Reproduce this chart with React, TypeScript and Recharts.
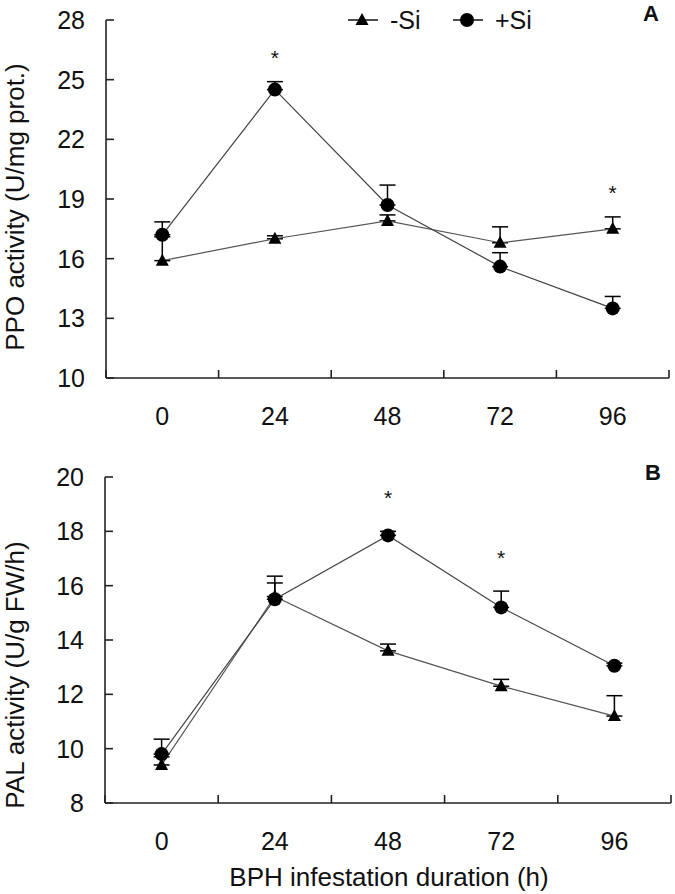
import React from "react";
import { LineChart, Line, XAxis, YAxis, ErrorBar, LabelList, Label } from "recharts";

const hours = [0, 24, 48, 72, 96];

// panel A: PPO activity
const ppoMinus = [15.9, 17.0, 17.9, 16.8, 17.5];
const ppoMinusErr = [1.2, 0.15, 0.3, 0.8, 0.6];
const ppoPlus = [17.2, 24.5, 18.7, 15.6, 13.5];
const ppoPlusErr = [0.65, 0.4, 1.0, 0.7, 0.6];
const ppoSig = [false, true, false, false, true];

// panel B: PAL activity
const palMinus = [9.4, 15.6, 13.6, 12.3, 11.2];
const palMinusErr = [0.3, 0.5, 0.25, 0.25, 0.75];
const palPlus = [9.8, 15.5, 17.85, 15.2, 13.05];
const palPlusErr = [0.55, 0.85, 0.15, 0.6, 0.1];
const palSig = [false, false, true, true, false];

const ppoTicks = [10, 13, 16, 19, 22, 25, 28];
const palTicks = [8, 10, 12, 14, 16, 18, 20];
const xTicks = [-12, 0, 12, 24, 36, 48, 60, 72, 84, 96, 108];

const FONT = "Liberation Sans, Arial, sans-serif";
const AXIS = "#222";

function buildRows(minus: number[], minusErr: number[], plus: number[], plusErr: number[], sig: boolean[]) {
  return hours.map((t, i) => ({
    t,
    minus: minus[i],
    minusErr: [0, minusErr[i]],
    plus: plus[i],
    plusErr: [0, plusErr[i]],
    star: sig[i] ? Math.max(minus[i] + minusErr[i], plus[i] + plusErr[i]) : null,
  }));
}

const TriangleDot = (props: any) => {
  const { cx, cy } = props;
  if (cx == null || cy == null) return null;
  return <polygon points={`${cx},${cy - 7} ${cx - 6.5},${cy + 5} ${cx + 6.5},${cy + 5}`} fill="#000" />;
};

const YTick = (props: any) => {
  const { x, y, payload } = props;
  return (
    <g>
      <line x1={x} x2={x + 8} y1={y} y2={y} stroke={AXIS} strokeWidth={1.6} />
      <text x={x - 21} y={y} dy="0.36em" textAnchor="end" fontSize={25} fontFamily={FONT} fill="#111">
        {payload.value}
      </text>
    </g>
  );
};

const XTick = (props: any) => {
  const { x, y, payload } = props;
  if (payload.value % 24 === 0) {
    return (
      <text x={x} y={y + 38} dy="0.36em" textAnchor="middle" fontSize={25} fontFamily={FONT} fill="#111">
        {payload.value}
      </text>
    );
  }
  return <line x1={x} x2={x} y1={y} y2={y - 8} stroke={AXIS} strokeWidth={1.6} />;
};

interface PanelProps {
  rows: ReturnType<typeof buildRows>;
  height: number;
  top: number;
  right: number;
  yWidth: number;
  xHeight: number;
  domain: [number, number];
  ticks: number[];
  yTitle: string;
  yTitleY: number;
  starOffset: number;
  xTitle?: string;
}

function Panel(p: PanelProps) {
  return (
    <LineChart width={675} height={p.height} data={p.rows} margin={{ top: p.top, right: p.right, left: 0, bottom: 0 }}>
      <XAxis
        dataKey="t"
        type="number"
        domain={[-12, 108]}
        ticks={xTicks}
        interval={0}
        tickSize={0}
        tickMargin={0}
        tickLine={false}
        tick={<XTick />}
        height={p.xHeight}
        stroke={AXIS}
        strokeWidth={1.6}
      >
        {p.xTitle && (
          <Label
            content={() => (
              <text x={389} y={p.height - 17} dy="0.36em" textAnchor="middle" fontSize={26} fontFamily={FONT} fill="#111">
                {p.xTitle}
              </text>
            )}
          />
        )}
      </XAxis>
      <YAxis
        type="number"
        domain={p.domain}
        ticks={p.ticks}
        interval={0}
        width={p.yWidth}
        tickSize={0}
        tickMargin={0}
        tickLine={false}
        tick={<YTick />}
        stroke={AXIS}
        strokeWidth={1.6}
      >
        <Label
          content={() => (
            <text
              x={15}
              y={p.yTitleY}
              dy="0.36em"
              textAnchor="middle"
              fontSize={26}
              fontFamily={FONT}
              fill="#111"
              transform={`rotate(-90 15 ${p.yTitleY})`}
            >
              {p.yTitle}
            </text>
          )}
        />
      </YAxis>
      <Line dataKey="minus" stroke="#555" strokeWidth={1.2} dot={<TriangleDot />} activeDot={false} isAnimationActive={false}>
        <ErrorBar dataKey="minusErr" direction="y" width={8} stroke="#000" strokeWidth={1.5} />
      </Line>
      <Line
        dataKey="plus"
        stroke="#444"
        strokeWidth={1.2}
        dot={{ r: 7, fill: "#000", stroke: "#000", strokeWidth: 0 }}
        activeDot={false}
        isAnimationActive={false}
      >
        <ErrorBar dataKey="plusErr" direction="y" width={8} stroke="#000" strokeWidth={1.5} />
      </Line>
      <Line dataKey="star" stroke="none" dot={false} activeDot={false} isAnimationActive={false} legendType="none">
        <LabelList
          dataKey="star"
          content={(lp: any) => {
            if (lp.value == null || lp.y == null) return null;
            return (
              <text x={lp.x} y={lp.y - p.starOffset + 8} textAnchor="middle" fontSize={21} fontFamily={FONT} fill="#111">
                *
              </text>
            );
          }}
        />
      </Line>
    </LineChart>
  );
}

const letterStyle: React.CSSProperties = {
  position: "absolute",
  fontFamily: FONT,
  fontWeight: "bold",
  fontSize: 22,
  color: "#111",
};

export default function App() {
  const rowsA = buildRows(ppoMinus, ppoMinusErr, ppoPlus, ppoPlusErr, ppoSig);
  const rowsB = buildRows(palMinus, palMinusErr, palPlus, palPlusErr, palSig);
  return (
    <div style={{ position: "absolute", left: 0, top: 0, width: 675, height: 894, background: "#fff" }}>
      <Panel
        rows={rowsA}
        height={440}
        top={20}
        right={6}
        yWidth={106}
        xHeight={62}
        domain={[10, 28]}
        ticks={ppoTicks}
        yTitle="PPO activity (U/mg prot.)"
        yTitleY={207}
        starOffset={25}
      />
      <Panel
        rows={rowsB}
        height={454}
        top={37}
        right={4}
        yWidth={105}
        xHeight={91}
        domain={[8, 20]}
        ticks={palTicks}
        yTitle="PAL activity (U/g FW/h)"
        yTitleY={235}
        starOffset={34}
        xTitle="BPH infestation duration (h)"
      />
      {/* legend */}
      <svg style={{ position: "absolute", left: 340, top: 4 }} width={210} height={32}>
        <line x1={8} x2={38} y1={16} y2={16} stroke="#111" strokeWidth={1.5} />
        <polygon points="22,9 15.5,21 28.5,21" fill="#000" />
        <text x={50} y={16} dy="0.36em" fontSize={25} fontFamily={FONT} fill="#111">-Si</text>
        <line x1={113} x2={143} y1={16} y2={16} stroke="#111" strokeWidth={1.5} />
        <circle cx={127} cy={16} r={7} fill="#000" />
        <text x={155} y={16} dy="0.36em" fontSize={25} fontFamily={FONT} fill="#111">+Si</text>
      </svg>
      <div style={{ ...letterStyle, left: 643, top: 1 }}>A</div>
      <div style={{ ...letterStyle, left: 645, top: 460 }}>B</div>
    </div>
  );
}
